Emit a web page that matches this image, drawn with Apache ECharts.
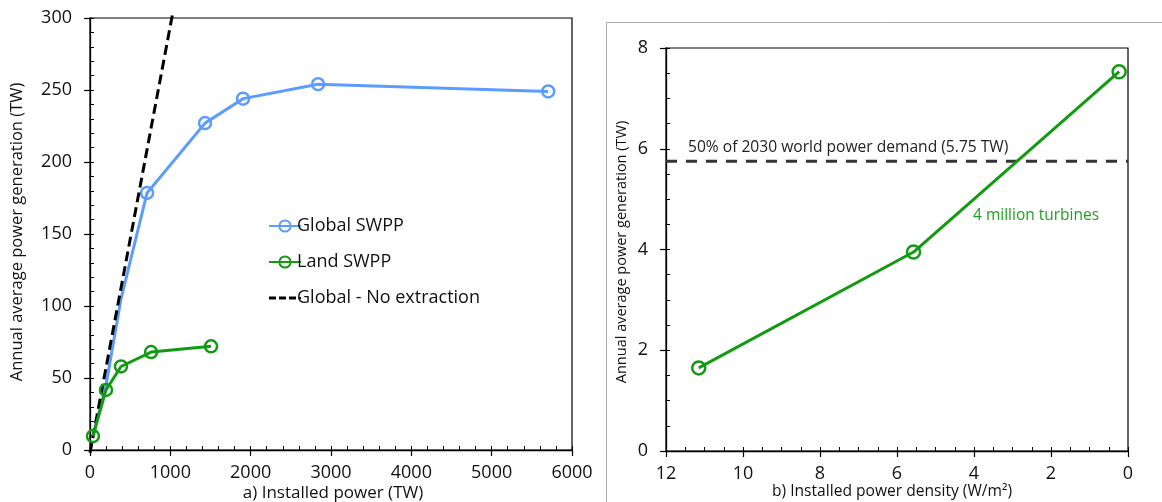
<!DOCTYPE html>
<html><head><meta charset="utf-8">
<script src="https://cdn.jsdelivr.net/npm/echarts@6/dist/echarts.min.js"></script>
<style>html,body{margin:0;padding:0;background:#fff}#c{width:1162px;height:502px}</style>
</head><body><div id="c"></div>
<script>
// ---- Data ----
const globalSWPP = [[37, 10, false], [199, 45, false], [386, 105, false], [710, 178.5, true], [1432, 227, true], [1905, 244, true], [2839, 254, true], [5704, 249, true]];
const landSWPP = [[37, 9.7], [199, 41.7], [386, 58], [760, 68], [1507, 72]];
const noExtraction = [[0, -2], [1035, 305]];
const densityCurve = [[11.15, 1.65], [5.57, 3.95], [0.23, 7.53]];
const demandLevel = 5.75;
const demandLine = [[12, demandLevel], [0, demandLevel]];
const seriesNames = ['Global SWPP', 'Land SWPP', 'Global - No extraction'];
const demandText = '50% of 2030 world power demand (5.75 TW)';
const turbineText = '4 million turbines';

const FONT = '"Open Sans", "Noto Sans", sans-serif';
const BLUE = '#5c9cff', GREEN = '#129a12', BLACK = '#000';
const chart = echarts.init(document.getElementById('c'), null, {renderer: 'canvas'});

function majorAxis(grid, min, max, interval, extra) {
  return Object.assign({
    type: 'value', gridIndex: grid, min: min, max: max, interval: interval,
    axisLine: {show: true, onZero: false, lineStyle: {color: '#000', width: 1.3}},
    axisTick: {show: true, inside: false, length: 6, lineStyle: {color: '#000', width: 1.2}},
    axisLabel: {color: '#111', fontFamily: FONT, fontSize: 18, margin: 14, formatter: v => String(v)},
    splitLine: {show: false}
  }, extra || {});
}
function minorAxis(grid, min, max, interval, extra) {
  return Object.assign({
    type: 'value', gridIndex: grid, min: min, max: max, interval: interval,
    axisLine: {show: false, onZero: false},
    axisTick: {show: true, inside: true, length: 4, lineStyle: {color: '#000', width: 1}},
    axisLabel: {show: false}, splitLine: {show: false}
  }, extra || {});
}
const yLabel = {color: '#111', fontFamily: FONT, fontSize: 18, margin: 18, formatter: v => String(v)};

const dashIcon = 'path://M0,0L0.01,0L0.01,0.01Z M0,14L0.01,14L0.01,14.01Z M0,5.5h7v3h-7z M10,5.5h7v3h-7z M20,5.5h7v3h-7z M29.5,6h2.5v2h-2.5z';

const option = {
  animation: false,
  backgroundColor: '#fff',
  grid: [
    {left: 90, top: 18, width: 482, height: 432, show: true, borderColor: '#000', borderWidth: 1.2, backgroundColor: 'transparent'},
    {left: 666, top: 48, width: 462, height: 403, show: true, borderColor: '#000', borderWidth: 1.2, backgroundColor: 'transparent'}
  ],
  xAxis: [
    majorAxis(0, 0, 6000, 1000, {position: 'bottom'}),
    majorAxis(1, 0, 12, 2, {position: 'bottom', inverse: true}),
    minorAxis(0, 0, 6000, 200, {position: 'bottom'}),
    minorAxis(1, 0, 12, 0.5, {position: 'bottom', inverse: true})
  ],
  yAxis: [
    majorAxis(0, 0, 300, 50, {position: 'left', axisLabel: yLabel}),
    majorAxis(1, 0, 8, 2, {position: 'left', axisLabel: yLabel}),
    minorAxis(0, 0, 300, 10, {position: 'left'}),
    minorAxis(1, 0, 8, 0.5, {position: 'left'})
  ],
  legend: {
    left: 263, top: 212, orient: 'vertical', itemGap: 18, itemWidth: 32, itemHeight: 14,
    data: [
      {name: seriesNames[0]},
      {name: seriesNames[1]},
      {name: seriesNames[2], icon: dashIcon, itemStyle: {color: '#000'}}
    ],
    textStyle: {fontFamily: FONT, fontSize: 18, color: '#111', padding: [0, 0, 0, -9]}
  },
  series: [
    {name: seriesNames[2], type: 'line', xAxisIndex: 0, yAxisIndex: 0, data: noExtraction, symbol: 'none',
     clip: false, lineStyle: {color: BLACK, width: 3, type: [10, 5]}, itemStyle: {color: BLACK}, z: 4},
    {name: seriesNames[0], type: 'line', xAxisIndex: 0, yAxisIndex: 0,
     data: globalSWPP.map(p => ({value: [p[0], p[1]], symbol: p[2] ? 'circle' : 'none'})),
     symbol: 'circle', symbolSize: 12,
     lineStyle: {color: BLUE, width: 3}, itemStyle: {color: 'rgba(255,255,255,0)', borderWidth: 2.5, borderColor: BLUE}, z: 2},
    {name: seriesNames[1], type: 'line', xAxisIndex: 0, yAxisIndex: 0, data: landSWPP, symbol: 'circle', symbolSize: 12,
     lineStyle: {color: GREEN, width: 3}, itemStyle: {color: 'rgba(255,255,255,0)', borderWidth: 2.5, borderColor: GREEN}, z: 5},
    {name: 'demand', type: 'line', xAxisIndex: 1, yAxisIndex: 1, data: demandLine, symbol: 'none',
     lineStyle: {color: '#333', width: 3, type: [11, 9]}, z: 2},
    {name: 'density', type: 'line', xAxisIndex: 1, yAxisIndex: 1, data: densityCurve, symbol: 'circle', symbolSize: 13,
     lineStyle: {color: GREEN, width: 3}, itemStyle: {color: 'rgba(255,255,255,0)', borderWidth: 2.5, borderColor: GREEN}, z: 3}
  ],
  graphic: [
    {type: 'rect', left: 604, top: 20, shape: {width: 600, height: 520}, style: {fill: 'none', stroke: '#aaa', lineWidth: 1}, z: -1, silent: true},
    {type: 'text', x: 17, y: 232, rotation: Math.PI / 2, style: {text: 'Annual average power generation (TW)', fontFamily: FONT, fontSize: 16.5, fill: '#111', align: 'center', verticalAlign: 'middle'}},
    {type: 'text', x: 333, y: 493, style: {text: 'a) Installed power (TW)', fontFamily: FONT, fontSize: 17, fill: '#111', align: 'center', verticalAlign: 'middle'}},
    {type: 'text', x: 622, y: 252, rotation: Math.PI / 2, style: {text: 'Annual average power generation (TW)', fontFamily: FONT, fontSize: 14.5, fill: '#111', align: 'center', verticalAlign: 'middle'}},
    {type: 'text', x: 892, y: 492, style: {text: 'b) Installed power density (W/m²)', fontFamily: FONT, fontSize: 15.6, fill: '#111', align: 'center', verticalAlign: 'middle'}},
    {type: 'text', x: 688, y: 148, style: {text: demandText, fontFamily: FONT, fontSize: 15.6, fill: '#222', align: 'left', verticalAlign: 'middle'}},
    {type: 'text', x: 973, y: 216, style: {text: turbineText, fontFamily: FONT, fontSize: 15.5, fill: '#22a022', align: 'left', verticalAlign: 'middle'}}
  ]
};
chart.setOption(option);
</script></body></html>
